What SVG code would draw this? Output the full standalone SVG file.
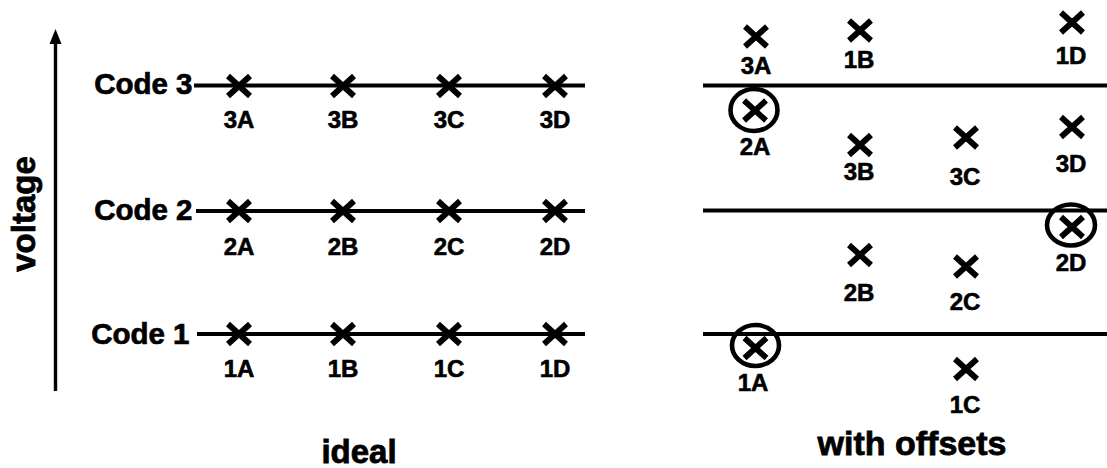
<svg xmlns="http://www.w3.org/2000/svg" xmlns:xlink="http://www.w3.org/1999/xlink" width="1107" height="468" viewBox="0 0 1107 468">
  <style>
    text { font-family: "Liberation Sans", Arial, sans-serif; font-weight: bold; fill: #000; stroke: #000; stroke-width: 0.7; }
    .code { font-size: 29.5px; text-anchor: end; }
    .pt { font-size: 24px; text-anchor: middle; stroke-width: 0.6; }
    .cap { font-size: 33px; text-anchor: middle; stroke-width: 0.8; }
    .level { stroke: #000; stroke-width: 3.8; fill: none; }
    .ring { stroke: #000; stroke-width: 4.6; fill: none; }
    .axis { stroke: #000; stroke-width: 3.4; fill: none; }
  </style>
  <defs>
    <!-- sample point mark -->
    <path id="xmark" d="M-11,-10 L11,10 M11,-10 L-11,10" stroke="#000" stroke-width="5.8" fill="none"/>
  </defs>

  <!-- voltage axis -->
  <g id="axis">
    <line class="axis" x1="55.5" y1="391" x2="55.5" y2="42"/>
    <path d="M49.5,44 L55.5,29 L61.5,44 Z" fill="#000"/>
    <text class="cap" transform="translate(35,214) rotate(-90)" style="font-size:33px">voltage</text>
  </g>

  <!-- code level lines -->
  <g id="connectors">
    <line class="level" x1="194" y1="85.5" x2="585" y2="85.5"/>
    <line class="level" x1="196" y1="211" x2="585" y2="211"/>
    <line class="level" x1="197" y1="334" x2="585" y2="334"/>
    <line class="level" x1="703" y1="85.5" x2="1107" y2="85.5"/>
    <line class="level" x1="703" y1="210.5" x2="1107" y2="210.5"/>
    <line class="level" x1="703" y1="334" x2="1107" y2="334"/>
  </g>

  <!-- code labels -->
  <g id="code3"><text class="code" x="192.5" y="94">Code 3</text></g>
  <g id="code2"><text class="code" x="192.5" y="220">Code 2</text></g>
  <g id="code1"><text class="code" x="189.5" y="343.5">Code 1</text></g>

  <!-- ideal sample points -->
  <g id="ideal-3A"><use xlink:href="#xmark" x="239" y="86"/><text class="pt" x="239" y="128">3A</text></g>
  <g id="ideal-3B"><use xlink:href="#xmark" x="343" y="86"/><text class="pt" x="343" y="128">3B</text></g>
  <g id="ideal-3C"><use xlink:href="#xmark" x="449" y="86"/><text class="pt" x="449" y="128">3C</text></g>
  <g id="ideal-3D"><use xlink:href="#xmark" x="555" y="86"/><text class="pt" x="555" y="128">3D</text></g>
  <g id="ideal-2A"><use xlink:href="#xmark" x="239" y="211"/><text class="pt" x="239" y="255">2A</text></g>
  <g id="ideal-2B"><use xlink:href="#xmark" x="343" y="211"/><text class="pt" x="343" y="255">2B</text></g>
  <g id="ideal-2C"><use xlink:href="#xmark" x="449" y="211"/><text class="pt" x="449" y="255">2C</text></g>
  <g id="ideal-2D"><use xlink:href="#xmark" x="555" y="211"/><text class="pt" x="555" y="255">2D</text></g>
  <g id="ideal-1A"><use xlink:href="#xmark" x="239" y="334"/><text class="pt" x="239" y="377">1A</text></g>
  <g id="ideal-1B"><use xlink:href="#xmark" x="343" y="334"/><text class="pt" x="343" y="377">1B</text></g>
  <g id="ideal-1C"><use xlink:href="#xmark" x="449" y="334"/><text class="pt" x="449" y="377">1C</text></g>
  <g id="ideal-1D"><use xlink:href="#xmark" x="555" y="334"/><text class="pt" x="555" y="377">1D</text></g>

  <!-- sample points with offsets -->
  <g id="off-3A"><use xlink:href="#xmark" x="756" y="36.5"/><text class="pt" x="756" y="74">3A</text></g>
  <g id="off-1B"><use xlink:href="#xmark" x="860" y="30.5"/><text class="pt" x="859" y="68">1B</text></g>
  <g id="off-1D"><use xlink:href="#xmark" x="1072" y="22.5"/><text class="pt" x="1071" y="64">1D</text></g>
  <g id="off-2A"><ellipse class="ring" cx="754" cy="110" rx="23.5" ry="21"/><use xlink:href="#xmark" x="755" y="110.5"/><text class="pt" x="755" y="155">2A</text></g>
  <g id="off-3B"><use xlink:href="#xmark" x="860" y="145"/><text class="pt" x="859" y="180">3B</text></g>
  <g id="off-3C"><use xlink:href="#xmark" x="966" y="137.5"/><text class="pt" x="965" y="185">3C</text></g>
  <g id="off-3D"><use xlink:href="#xmark" x="1072" y="127"/><text class="pt" x="1071" y="172">3D</text></g>
  <g id="off-2D"><ellipse class="ring" cx="1071" cy="225" rx="24" ry="20.5"/><use xlink:href="#xmark" x="1072" y="227"/><text class="pt" x="1071" y="271">2D</text></g>
  <g id="off-2B"><use xlink:href="#xmark" x="860" y="255"/><text class="pt" x="859" y="301">2B</text></g>
  <g id="off-2C"><use xlink:href="#xmark" x="966" y="266.5"/><text class="pt" x="965" y="310">2C</text></g>
  <g id="off-1A"><ellipse class="ring" cx="755.5" cy="345.5" rx="23.5" ry="20.5"/><use xlink:href="#xmark" x="755.5" y="348"/><text class="pt" x="753" y="391">1A</text></g>
  <g id="off-1C"><use xlink:href="#xmark" x="966" y="369"/><text class="pt" x="965" y="413">1C</text></g>

  <!-- panel captions -->
  <g id="caption-ideal"><text class="cap" x="359" y="463">ideal</text></g>
  <g id="caption-offsets"><text class="cap" x="912" y="455" style="font-size:34px">with offsets</text></g>
</svg>
